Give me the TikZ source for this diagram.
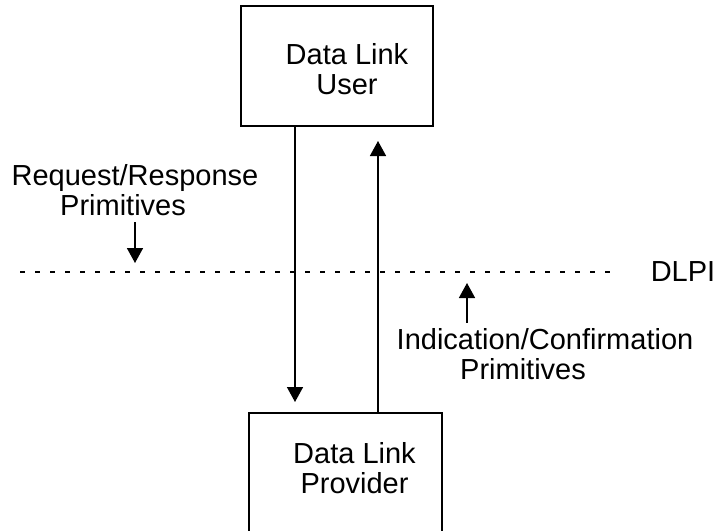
\documentclass[tikz,border=0pt]{standalone}
\usepackage{fontspec}
\setmainfont{Liberation Sans}
\usetikzlibrary{arrows.meta}
\begin{document}
\begin{tikzpicture}[x=0.5pt,y=-0.5pt,
        box/.style={draw,line width=1pt,inner sep=0pt},
        caption/.style={align=center,inner sep=0pt,font=\fontsize{14.5pt}{15pt}\selectfont},
        flow/.style={line width=0.8pt,-{Triangle[width=8pt,length=7.5pt]}},
        dlpiline/.style={line width=1pt,dash pattern=on 2.5pt off 5pt}]
                \useasboundingbox (0,0) rectangle (719,531);
                \clip (0,0) rectangle (719,531);

                \node[box,minimum width=96pt,minimum height=60pt,
                        label={[caption,xshift=5pt,yshift=-1.5pt]center:Data Link\\User}] (user) at (337,66) {};
                \node[box,minimum width=96.5pt,minimum height=73.5pt,
                        label={[caption,xshift=4.5pt,yshift=9pt]center:Data Link\\Provider}] (provider) at (345.5,486.5) {};

                \node[caption] (reqtext) at (135,190) {Request/Response\\Primitives\hspace*{12pt}};
                \node[caption] (indtext) at (545,354) {Indication/Confirmation\\Primitives\hspace*{22pt}};
                \node[caption] (dlpi) at (683,272) {DLPI};

                \coordinate (dashstart) at (20,272);
                \coordinate (reqtip) at (135,263);
                \coordinate (indtip) at (467,283);
                \coordinate (downtop) at ([xshift=-21pt]user.south);
                \coordinate (upfoot) at ([xshift=16.25pt]provider.north);

                \draw[dlpiline] (dashstart) -- (dlpi.west) [shorten >=19.5pt];
                \draw[flow,shorten >=5pt] (downtop) -- (downtop |- provider.north);
                \draw[flow,shorten >=7pt] (upfoot) -- (upfoot |- user.south);
                \draw[flow,shorten <=3pt] (reqtext.south) -- (reqtip);
                \draw[flow,shorten <=2.5pt] (indtext.north -| indtip) -- (indtip);
            \end{tikzpicture}
\end{document}
